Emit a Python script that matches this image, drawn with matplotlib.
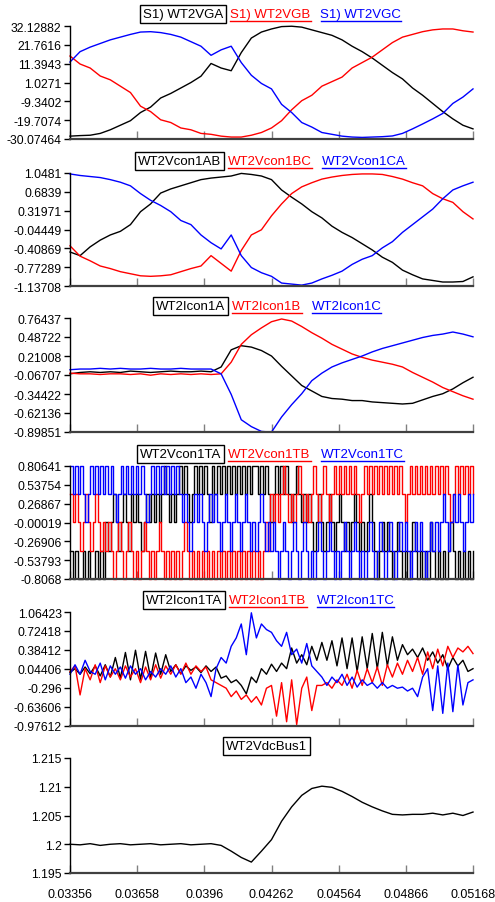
import numpy as np
import matplotlib
matplotlib.use('Agg')
import matplotlib.pyplot as plt
from matplotlib.lines import Line2D

plt.rcParams['font.family'] = ['Liberation Sans', 'DejaVu Sans']
plt.rcParams['axes.unicode_minus'] = False

W, H = 495, 903
T0, T1 = 0.03356, 0.05168

# ---- panel 1 : S1) WT2VGA / VGB / VGC
vga = [-28.5, -28.2, -28.0, -27.0, -25.0, -22.5, -20.0, -15.5, -12.5, -7.5, -5.0, -2.0, 1.0, 4.5, 11.5,
       9.0, 7.5, 17.5, 25.5, 28.8, 30.5, 31.8, 32.0, 31.5, 30.0, 28.5, 27.0, 24.5, 21.0, 18.0, 14.5,
       10.5, 6.5, 3.0, -2.0, -6.0, -10.5, -15.0, -19.0, -22.5, -24.5]
vgb = [15.6, 11.2, 9.0, 4.6, 2.5, -1.0, -4.5, -12.0, -15.0, -19.5, -21.0, -24.0, -25.0, -27.0, -27.5,
       -28.5, -29.0, -29.0, -28.0, -26.5, -24.0, -20.0, -14.0, -9.0, -6.0, -1.0, 1.5, 4.0, 9.0, 12.0,
       15.0, 19.0, 23.0, 26.0, 27.5, 29.0, 30.0, 30.5, 30.5, 29.5, 28.8]
vgc = [12.3, 18.0, 20.5, 22.5, 24.5, 26.0, 27.5, 28.8, 29.0, 28.5, 27.5, 26.0, 23.5, 21.0, 16.0,
       19.0, 21.0, 12.0, 5.0, 0.5, -2.5, -11.0, -15.5, -21.0, -23.5, -26.5, -27.5, -28.5, -29.0, -29.2,
       -29.0, -28.8, -28.4, -27.0, -24.5, -21.8, -19.0, -16.0, -10.5, -7.0, -2.5]

# ---- panel 2 : WT2Vcon1AB / BC / CA
vab = [-0.48, -0.55, -0.38, -0.25, -0.15, -0.08, 0.05, 0.30, 0.45, 0.66, 0.74, 0.80, 0.86, 0.92, 0.95,
       0.97, 0.99, 1.04, 1.02, 0.99, 0.92, 0.72, 0.58, 0.45, 0.30, 0.18, 0.02, -0.10, -0.20, -0.32,
       -0.44, -0.58, -0.68, -0.83, -0.92, -1.0, -1.03, -1.06, -1.06, -1.05, -0.96]
vbc = [-0.36, -0.56, -0.65, -0.75, -0.80, -0.86, -0.90, -0.94, -0.95, -0.94, -0.92, -0.86, -0.80, -0.75,
       -0.55, -0.70, -0.85, -0.45, -0.15, -0.05, 0.22, 0.45, 0.65, 0.78, 0.86, 0.93, 0.97, 1.0, 1.02,
       1.03, 1.03, 1.02, 0.98, 0.93, 0.86, 0.80, 0.65, 0.55, 0.48, 0.30, 0.16]
vca = [1.03, 1.00, 0.98, 0.96, 0.92, 0.87, 0.80, 0.65, 0.52, 0.42, 0.30, 0.13, 0.05, -0.15, -0.30,
       -0.42, -0.15, -0.55, -0.78, -0.88, -0.95, -1.08, -1.10, -1.12, -1.08, -1.0, -0.93, -0.85, -0.72,
       -0.62, -0.55, -0.40, -0.28, -0.10, 0.05, 0.20, 0.35, 0.55, 0.72, 0.80, 0.87]

# ---- panel 3 : WT2Icon1A / B / C
ia = [-0.05, -0.03, -0.02, -0.03, -0.02, -0.03, -0.01, -0.02, -0.03, -0.02, -0.01, -0.02, -0.02, -0.01,
      -0.02, 0.05, 0.30, 0.36, 0.34, 0.29, 0.21, 0.06, -0.08, -0.22, -0.30, -0.38, -0.41, -0.42, -0.44,
      -0.44, -0.46, -0.47, -0.48, -0.49, -0.48, -0.43, -0.38, -0.34, -0.27, -0.18, -0.10]
ib = [-0.04, -0.05, -0.05, -0.06, -0.05, -0.05, -0.06, -0.05, -0.07, -0.05, -0.06, -0.05, -0.06, -0.05,
      -0.06, -0.05, 0.12, 0.38, 0.52, 0.62, 0.71, 0.75, 0.72, 0.64, 0.55, 0.47, 0.38, 0.31, 0.24, 0.19,
      0.15, 0.12, 0.09, 0.05, -0.03, -0.10, -0.17, -0.25, -0.31, -0.37, -0.42]
ic = [0.01, 0.02, 0.02, 0.03, 0.02, 0.03, 0.02, 0.02, 0.03, 0.02, 0.02, 0.03, 0.02, 0.02, 0.02, -0.05,
      -0.35, -0.72, -0.82, -0.89, -0.90, -0.68, -0.50, -0.34, -0.15, -0.04, 0.05, 0.11, 0.16, 0.21, 0.27,
      0.32, 0.36, 0.40, 0.44, 0.48, 0.51, 0.53, 0.56, 0.53, 0.49]

# ---- panel 4 : WT2Vcon1TA / TB / TC  (switching levels, in units of LEVEL)
LEVEL = 0.4032
vta = [-1, -2, -1, -2, -2, -1, -2, -1, -2, -2, -1, -2, -1, -2,
       0, -1, 0, 1, 0, -1, 0, 1, 0, -1, 1, 0, 1, 0, -1, 0, 1, 0, 1, 0, 1, 0, 1, 2, 1, 0, 1, 0, 1,
       2, 1, 2, 1, 0, 1, 2, 1, 2, 1, 2, 1, 0, 2, 1, 2, 1, 2, 1, 2, 1, 2, 1, 2,
       1, 2, 1, 2, 1, 2, 2, 1, 2, 1, 2, 1, 0, 1, 2, 1, 2, 1, 2, 1, 0, 1, 2, 1, 0, 1, 0,
       1, 0, -1, 0, 1, 0, -1, 0, 1, 0, -1, 0, 1, 0, -1, 0, -1, 0, 1, 0, -1, 0, -1, 0, 1, 0, -1, -2, -1,
       0, -1, 0,
       -1, -2, -1, 0, -1, -2, -1, -2, -1, 0, -1, -2, -1, -2, -1, -2, 0, -1, -2, -1, -2, -1, -2, -1, 0,
       -1, -2, -1, -2, -1, -2, -1, -2, -1]
vtb = [1, 0, 1, 0, -1, 0, 1, 0, -1, 0, 1, 0, -1, 0, -1, 0,
       -1, -2, -1, 0, -1, -2, -1, 0, -1, -2, -1, -2, -1, 0, -1, -2, -1, -2, -1, 0,
       -1, -2, -1, -2, -1, -2, -1, -2, -1, 0, -1, -2, -1, -2, -1, -2, -1, -2, -1, -2,
       -1, -2, -1, -2, -1, -2, -1, -2, -1, -2, -1,
       -2, -1, -2, -1, -2, -1, -2, -1, -2, -1, 0, -1,
       1, 0, 1, 0, 1, 2, 1, 0, 1, 0, 1, 2, 1, 0, 1, 0, 1, 2, 1, 0, 1, 2, 1, 0, 1, 2, 1,
       2, 1, 2, 1, 2, 1, 2, 1, 0, 1, 2, 1, 2, 1, 2, 1, 2, 1, 2, 1, 2, 1, 2, 1, 2, 1, 0, 1, 2, 1,
       2, 1, 2, 1, 2, 1, 2, 1, 2, 1, 2, 1, 2, 1, 0, 1, 2, 1, 2, 1, 2, 1, 2, 1]
vtc = [2, 1, 2, 1, 2, 1, 0, 1, 2, 1, 2, 1, 2, 1, 2, 1, 2, 1, 0, 1, 2, 1, 2, 1, 2, 1, 2, 1, 2, 1,
       0, 1, 2, 1, 2, 1, 2, 1, 2, 1, 2, 1, 2,
       1, 0, 1, 0, -1, 0, 1, 0, 1, 0, -1, 0, 1, 0, 1, 0, -1, 0, 1, 0, -1, 0, 1, 0, -1, 0, 1, 0, -1, 0,
       -1, 0, 1, 0, -1, 0,
       -1, 0, -1, -2, -1, 0, -1, -2, -1, 0, -1, -2, -1, 0, -1, -2, -1, -2, -1, 0, -1, -2, -1, 0, -1,
       -2, -1, -2, -1, 0, -1, -2, -1, 0, -1, -2, -1, -2, -1, 0, -1, -2, -1, 0, -1, -2, -1, 0, -1, -2,
       -1, 0, -1, 0, -1, -2, -1, 0, -1, 0, -1, -2, -1, 0, -1, 0, -1,
       0, 1, 0, -1, 0, 1, 0, 1, 0, -1, 0, 1, 0, 1]

# ---- panel 5 : WT2Icon1TA / TB / TC
ita = [-0.02, 0.05, -0.05, 0.08, -0.04, 0.10, -0.08, 0.12, -0.10, 0.25, -0.12, 0.34, -0.15, 0.38, -0.14,
       0.36, -0.12, 0.33, -0.05, 0.30, 0.0, 0.12, -0.04, 0.10, 0.02, 0.08, -0.02, 0.10, 0.0, 0.08, -0.12,
       -0.08, -0.20, -0.15, -0.25, -0.40, -0.10, -0.20, 0.05, -0.05, 0.13, 0.0, 0.15, 0.05, 0.42, 0.15,
       0.30, 0.12, 0.45, 0.20, 0.52, 0.20, 0.55, 0.10, 0.60, 0.05, 0.60, 0.0, 0.62, 0.05, 0.68, 0.05,
       0.70, 0.10, 0.62, 0.20, 0.48, 0.30, 0.40, 0.25, 0.42, 0.20, 0.35, 0.15, 0.30, 0.05, 0.25, 0.10,
       0.20, 0.0, 0.05]
itb = [0.0, 0.10, -0.42, 0.05, -0.15, 0.12, -0.20, 0.10, -0.10, 0.05, -0.15, 0.10, -0.10, 0.05, -0.20,
       0.08, -0.15, 0.12, -0.12, 0.10, -0.05, 0.12, -0.05, 0.15, -0.05, 0.10, 0.0, 0.08, -0.15, -0.20,
       -0.25, -0.30, -0.45, -0.35, -0.50, -0.42, -0.55, -0.45, -0.60, -0.30, -0.25, -0.80, -0.20, -0.90,
       -0.15, -0.95, -0.30, -0.10, -0.70, -0.25, -0.25, -0.20, -0.30, -0.15, -0.25, -0.05, -0.30, 0.02,
       -0.25, 0.05, -0.20, 0.08, -0.25, 0.12, -0.10, 0.15, -0.05, 0.20, 0.0, 0.25, -0.05, 0.35, 0.05,
       0.40, 0.10, 0.45, 0.25, 0.42, 0.35, 0.45, 0.32]
itc = [-0.05, 0.12, -0.05, 0.20, 0.0, -0.05, 0.15, -0.15, 0.10, -0.05, 0.08, -0.12, 0.10, -0.05, 0.05,
       -0.15, 0.0, -0.10, 0.05, -0.05, 0.10, -0.10, 0.05, -0.20, -0.10, -0.30, -0.05, -0.20, -0.45, 0.05,
       0.25, 0.15, 0.45, 0.60, 0.85, 0.30, 1.05, 0.60, 0.85, 0.75, 0.70, 0.55, 0.45, 0.70, 0.30, 0.40,
       0.15, 0.50, 0.10, 0.0, -0.10, -0.25, -0.10, -0.20, -0.05, -0.25, -0.10, -0.28, -0.15, -0.25, -0.20,
       -0.30, -0.20, -0.30, -0.25, -0.30, -0.28, -0.35, -0.30, -0.45, -0.10, 0.05, -0.70, 0.10, -0.75,
       0.15, -0.72, 0.12, -0.60, -0.20, -0.15]

# ---- panel 6 : WT2VdcBus1
vdc = [1.2, 1.1999, 1.2001, 1.1998, 1.2, 1.2001, 1.1999, 1.2, 1.2001, 1.1999, 1.2, 1.2001, 1.1999, 1.2,
       1.2001, 1.1998, 1.1988, 1.1977, 1.1969, 1.1988, 1.2008, 1.2040, 1.2065, 1.2085, 1.2097, 1.2101,
       1.2099, 1.2092, 1.2083, 1.2073, 1.2065, 1.2058, 1.2052, 1.2051, 1.2052, 1.2052, 1.2054, 1.2051,
       1.2054, 1.2050, 1.2056]

xticks = [0.03356, 0.03658, 0.0396, 0.04262, 0.04564, 0.04866, 0.05168]
xlabels = ['0.03356', '0.03658', '0.0396', '0.04262', '0.04564', '0.04866', '0.05168']

panels = [
    dict(top=27, bot=140, ylim=(-30.07464, 32.12882),
         yt=['-30.07464', '-19.7074', '-9.3402', '1.0271', '11.3943', '21.7616', '32.12882'],
         names=['S1) WT2VGA', 'S1) WT2VGB', 'S1) WT2VGC'], data=[vga, vgb, vgc], x0=143),
    dict(top=174, bot=287, ylim=(-1.13708, 1.0481),
         yt=['-1.13708', '-0.77289', '-0.40869', '-0.04449', '0.31971', '0.6839', '1.0481'],
         names=['WT2Vcon1AB', 'WT2Vcon1BC', 'WT2Vcon1CA'], data=[vab, vbc, vca], x0=138),
    dict(top=319, bot=433, ylim=(-0.89851, 0.76437),
         yt=['-0.89851', '-0.62136', '-0.34422', '-0.06707', '0.21008', '0.48722', '0.76437'],
         names=['WT2Icon1A', 'WT2Icon1B', 'WT2Icon1C'], data=[ia, ib, ic], x0=156),
    dict(top=467, bot=580, ylim=(-0.8068, 0.80641),
         yt=['-0.8068', '-0.53793', '-0.26906', '-0.00019', '0.26867', '0.53754', '0.80641'],
         names=['WT2Vcon1TA', 'WT2Vcon1TB', 'WT2Vcon1TC'],
         data=[np.array(vta) * LEVEL, np.array(vtb) * LEVEL, np.array(vtc) * LEVEL], x0=140, steps=True),
    dict(top=613, bot=727, ylim=(-0.97612, 1.06423),
         yt=['-0.97612', '-0.63606', '-0.296', '0.04406', '0.38412', '0.72418', '1.06423'],
         names=['WT2Icon1TA', 'WT2Icon1TB', 'WT2Icon1TC'], data=[ita, itb, itc], x0=146),
    dict(top=759, bot=874, ylim=(1.195, 1.215),
         yt=['1.195', '1.2', '1.205', '1.21', '1.215'],
         names=['WT2VdcBus1'], data=[vdc], x0=226),
]
colors = ['black', '#ff0000', '#0000ff']

fig = plt.figure(figsize=(W / 100, H / 100), dpi=100)
renderer = fig.canvas.get_renderer()

for k, p in enumerate(panels):
    ax = fig.add_axes([70 / W, 1 - p['bot'] / H, 403 / W, (p['bot'] - p['top']) / H])
    for vals, c in zip(p['data'], colors):
        t = np.linspace(T0, T1, len(vals))
        if p.get('steps'):
            ax.plot(t, vals, color=c, lw=1, drawstyle='steps-post', clip_on=False)
        else:
            ax.plot(t, vals, color=c, lw=1, clip_on=False)
    ax.set_xlim(T0, T1)
    ax.set_ylim(*p['ylim'])
    ax.set_yticks(np.linspace(p['ylim'][0], p['ylim'][1], len(p['yt'])))
    ax.set_yticklabels(p['yt'])
    ax.set_xticks(xticks)
    if k == len(panels) - 1:
        ax.set_xticklabels(xlabels)
    else:
        ax.set_xticklabels([])
    for s in ['top', 'right']:
        ax.spines[s].set_visible(False)
    ax.spines['left'].set_color('black')
    ax.spines['left'].set_linewidth(1)
    ax.spines['bottom'].set_color('#404040')
    ax.spines['bottom'].set_linewidth(1.6)
    ax.tick_params(axis='y', direction='out', length=4, width=1, pad=2, labelsize=8.7, colors='black')
    ax.tick_params(axis='x', direction='in', length=6, width=1, pad=11, labelsize=9,
                   color='#808080', labelcolor='black')

    # signal names above each panel
    ypx = p['top'] - 12
    x = p['x0']
    for j, nm in enumerate(p['names']):
        c = colors[j]
        if j == 0:
            txt = fig.text(x / W, 1 - ypx / H, nm, color=c, fontsize=9.5, ha='left', va='center',
                           bbox=dict(boxstyle='square,pad=0.2', fc='white', ec='black', lw=1))
        else:
            txt = fig.text(x / W, 1 - ypx / H, nm, color=c, fontsize=9.5, ha='left', va='center')
        bb = txt.get_window_extent(renderer)
        if j > 0:
            yl = (bb.y0 - 1) / H
            fig.add_artist(Line2D([bb.x0 / W, bb.x1 / W], [yl, yl], transform=fig.transFigure,
                                  color=c, lw=1))
        x += bb.width + (7 if j == 0 else 10)

fig.savefig('out.png', dpi=100)
